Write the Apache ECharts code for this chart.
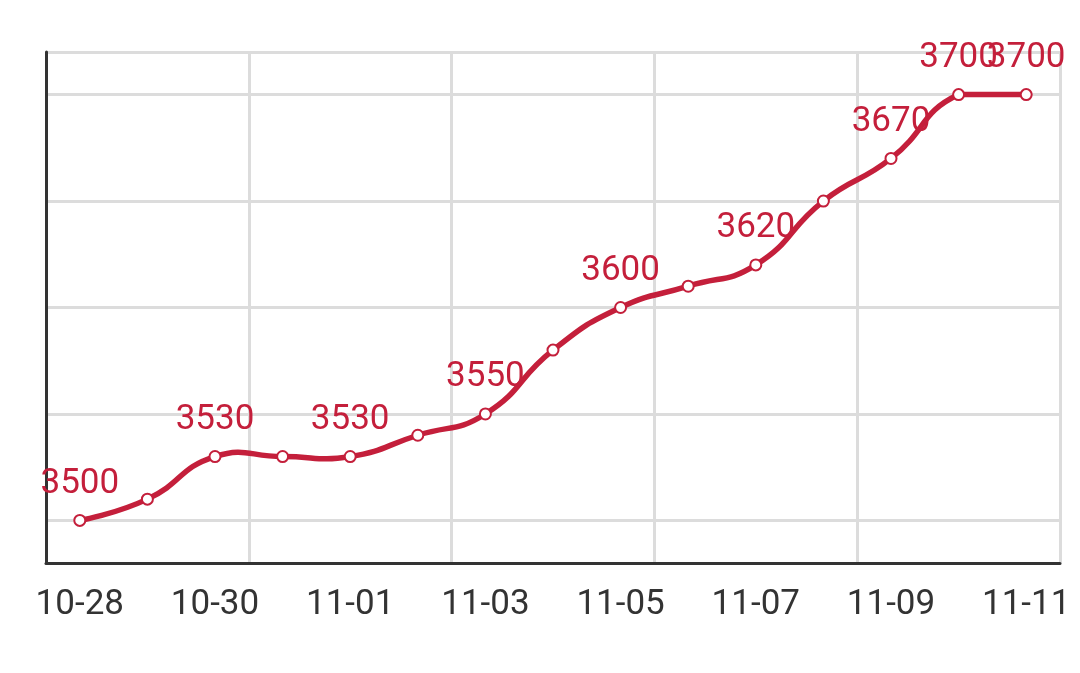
<!DOCTYPE html>
<html><head><meta charset="utf-8">
<script src="https://cdn.jsdelivr.net/npm/echarts@6/dist/echarts.min.js"></script>
<style>html,body{margin:0;padding:0;background:#fff}#c{width:1080px;height:673px}</style>
</head><body><div id="c"></div>
<script>
var categories = ['10-28','10-29','10-30','10-31','11-01','11-02','11-03','11-04','11-05','11-06','11-07','11-08','11-09','11-10','11-11'];
var values = [3500,3510,3530,3530,3530,3540,3550,3580,3600,3610,3620,3650,3670,3700,3700];
var labelShown = [1,0,1,0,1,0,1,0,1,0,1,0,1,1,1];
var yMin = 3480, yMax = 3720;

var RED = '#c41f3b';
var SMOOTH = 0.5;

function smoothPath(pts) {
  // bezier smoothing with control points constrained to the points' bounding box
  var n = pts.length;
  var minX = Infinity, minY = Infinity, maxX = -Infinity, maxY = -Infinity;
  pts.forEach(function(p){
    minX = Math.min(minX, p[0]); maxX = Math.max(maxX, p[0]);
    minY = Math.min(minY, p[1]); maxY = Math.max(maxY, p[1]);
  });
  function clamp(c) {
    return [Math.min(maxX, Math.max(minX, c[0])), Math.min(maxY, Math.max(minY, c[1]))];
  }
  var d = 'M' + pts[0][0] + ' ' + pts[0][1];
  var cp0 = [pts[0][0], pts[0][1]];
  for (var i = 1; i < n; i++) {
    var p = pts[i], prev = pts[i - 1], next = pts[i + 1];
    var cp1, ratio = 0.5, vx = 0, vy = 0;
    if (!next) {
      cp1 = [p[0], p[1]];
    } else {
      vx = next[0] - prev[0]; vy = next[1] - prev[1];
      var lp = Math.hypot(p[0] - prev[0], p[1] - prev[1]);
      var ln = Math.hypot(p[0] - next[0], p[1] - next[1]);
      ratio = ln / (ln + lp);
      cp1 = [p[0] - vx * SMOOTH * (1 - ratio), p[1] - vy * SMOOTH * (1 - ratio)];
    }
    var a = clamp(cp0), b = clamp(cp1);
    d += ' C' + a[0] + ' ' + a[1] + ' ' + b[0] + ' ' + b[1] + ' ' + p[0] + ' ' + p[1];
    cp0 = [p[0] + vx * SMOOTH * ratio, p[1] + vy * SMOOTH * ratio];
  }
  return d;
}

var chart = echarts.init(document.getElementById('c'));
chart.setOption({
  animation: false,
  grid: {left: 46, right: 20, top: 52, bottom: 110},
  xAxis: {
    type: 'category', data: categories, boundaryGap: true,
    axisLine: {lineStyle: {color: '#333', width: 3}},
    axisTick: {show: false},
    axisLabel: {interval: 1, color: '#333', fontSize: 35, fontFamily: 'Roboto', margin: 25},
    splitLine: {show: true, interval: 2, lineStyle: {color: '#dcdcdc', width: 3}}
  },
  yAxis: {
    type: 'value', min: yMin, max: yMax, splitNumber: 5,
    axisLine: {show: true, lineStyle: {color: '#333', width: 3}},
    axisTick: {show: false},
    axisLabel: {show: false},
    splitLine: {show: true, lineStyle: {color: '#dcdcdc', width: 3}}
  },
  series: [
    {
      type: 'line', z: 1, data: values.map(function(v, i){
        return {value: v, label: {show: !!labelShown[i]}};
      }),
      symbol: 'circle', symbolSize: 12, showSymbol: true,
      itemStyle: {color: 'rgba(0,0,0,0)', borderWidth: 0}, lineStyle: {width: 0, color: 'rgba(0,0,0,0)'},
      label: {position: 'top', distance: 13, color: RED, fontSize: 35, fontFamily: 'Roboto'},
      silent: true
    },
    {
      type: 'custom', z: 2, silent: true,
      data: values.map(function(v, i){ return [i, v]; }),
      encode: {x: 0, y: 1},
      renderItem: function(params, api) {
        if (params.dataIndex !== 0) return null;
        var pts = values.map(function(v, i){ return api.coord([i, v]); });
        return {
          type: 'path',
          shape: {pathData: smoothPath(pts)},
          style: {stroke: RED, lineWidth: 5.5, fill: null, lineJoin: 'round', lineCap: 'round'}
        };
      }
    },
    {
      type: 'line', z: 3, data: values,
      symbol: 'emptyCircle', symbolSize: 11,
      itemStyle: {color: RED, borderWidth: 2.5},
      lineStyle: {width: 0, color: 'rgba(0,0,0,0)'},
      label: {show: false}
    }
  ]
});
</script></body></html>
